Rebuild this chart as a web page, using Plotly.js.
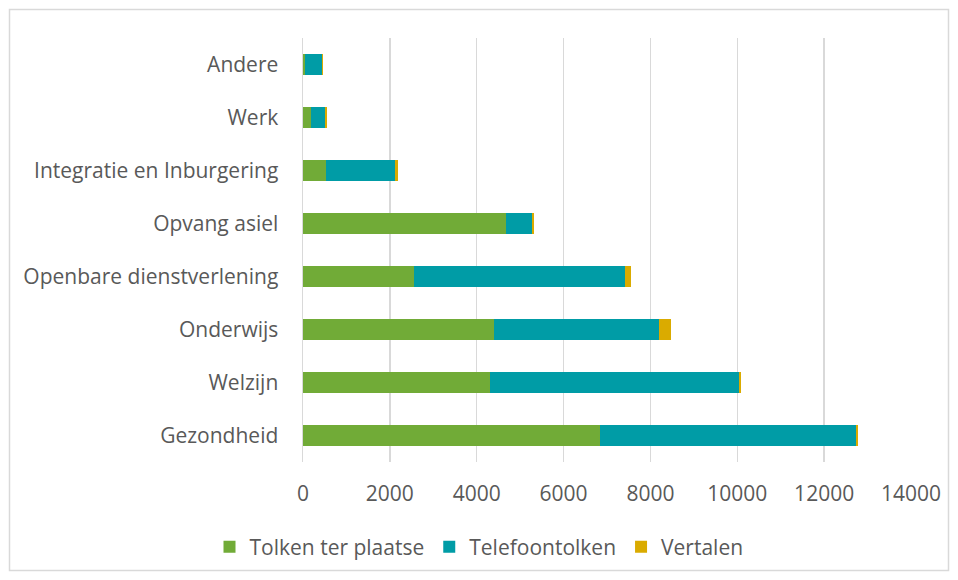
<!DOCTYPE html>
<html><head><meta charset="utf-8">
<script src="https://cdn.plot.ly/plotly-3.0.1.min.js"></script>
<style>html,body{margin:0;padding:0;background:#fff}#c{width:958px;height:580px}</style>
</head><body><div id="c"></div>
<script>
const categories = ["Gezondheid","Welzijn","Onderwijs","Openbare dienstverlening","Opvang asiel","Integratie en Inburgering","Werk","Andere"];
const tolkenTerPlaatse = [6850, 4300, 4405, 2550, 4670, 520, 190, 40];
const telefoontolken   = [5875, 5745, 3800, 4855, 610, 1605, 315, 400];
const vertalen         = [45, 40, 270, 145, 30, 55, 40, 10];
const seriesNames = ["Tolken ter plaatse","Telefoontolken","Vertalen"];
const xTicks = [0,2000,4000,6000,8000,10000,12000,14000];

const colors = ["#71AB37","#009CA6","#DAAB00"];
const vals = [tolkenTerPlaatse, telefoontolken, vertalen];
const traces = vals.map((v,i)=>({
  type:'bar', orientation:'h', name:seriesNames[i], x:v, y:categories,
  marker:{color:colors[i]}, hoverinfo:'x+y+name'
}));
const W=958,H=580,L=303,R=911,T=38,B=462;
const px=(p)=>(p-L)/(R-L), py=(p)=>(B-p)/(B-T);
const layout = {
  width:W, height:H, barmode:'stack', bargap:0.6,
  margin:{l:L, r:W-R, t:T, b:H-B, pad:0},
  paper_bgcolor:'#fff', plot_bgcolor:'#fff',
  font:{family:'Open Sans, sans-serif', size:21, color:'#595959'},
  xaxis:{range:[0,14000], tickvals:xTicks, ticktext:xTicks.map(String), showgrid:true, gridcolor:'#d9d9d9', gridwidth:1.5,
         zeroline:false, showline:false, ticks:'', ticklabelstandoff:17, fixedrange:true},
  yaxis:{type:'category', categoryorder:'array', categoryarray:categories, showgrid:false, zeroline:false,
         showline:true, linecolor:'#d9d9d9', linewidth:1.5, ticks:'', ticklabelstandoff:19, fixedrange:true},
  showlegend:true,
  legend:{orientation:'h', x:0.5, xanchor:'center', xref:'container', y:33/H, yref:'container', yanchor:'middle',
          font:{size:21, color:'#595959'}, traceorder:'normal', itemwidth:30, entrywidthmode:'pixels'},
  shapes:[{type:'rect', xref:'paper', yref:'paper', x0:px(9.5), x1:px(948.5), y0:py(570.5), y1:py(9.5),
           line:{color:'#d9d9d9', width:1.5}, fillcolor:'rgba(0,0,0,0)', layer:'below'}]
};
Plotly.newPlot('c', traces, layout, {displayModeBar:false, staticPlot:true});
</script></body></html>
